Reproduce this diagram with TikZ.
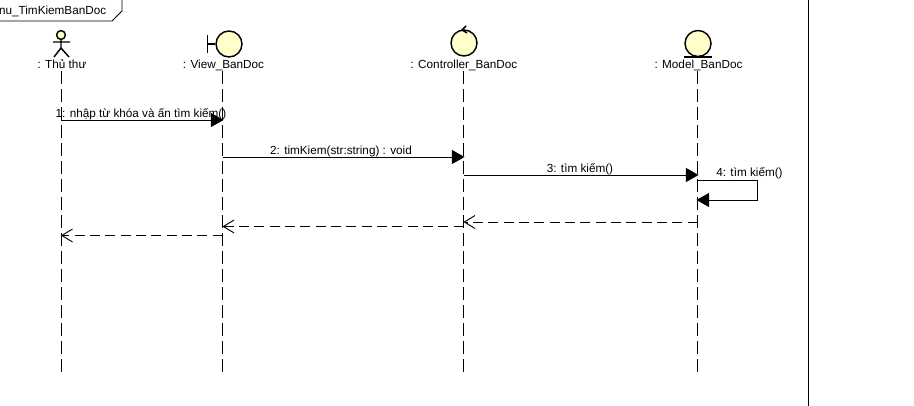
\documentclass[tikz,border=0pt]{standalone}
\usepackage{fontspec}
\setmainfont{Liberation Sans}
\usetikzlibrary{arrows.meta}
\definecolor{iconfill}{RGB}{255,255,204}
\tikzstyle{lbl}=[font=\fontsize{8.8}{10}\selectfont,inner sep=0pt,text height=8.5pt,text depth=1.5pt]
\tikzstyle{icon}=[draw=black,line width=1.1pt,fill=iconfill]
\tikzstyle{iconln}=[draw=black,line width=1.1pt]
\tikzstyle{lifeline}=[draw=black,line width=.7pt,dash pattern=on 9.75pt off 3.75pt]
\tikzstyle{msg}=[draw=black,line width=.7pt,shorten >=-.8pt,-{Triangle[length=9.5pt,width=10.5pt]}]
\tikzstyle{ret}=[draw=black,line width=.7pt,dash pattern=on 7.5pt off 4pt,-{Straight Barb[length=8pt,width=9.75pt]}]
\begin{document}
\begin{tikzpicture}[x=.75pt,y=-.75pt]
\useasboundingbox (0,0) rectangle (914,406);
% frame tab and page edge
\node[lbl,anchor=east] (frame) at (106.5,9.5) {nu\_TimKiemBanDoc};
\draw[line width=.7pt] (0,21) -- (112,21) -- (122,11) -- (122,0);
\draw[line width=.7pt] (808,0) -- (808,406);
% actor
\node[icon,circle,minimum size=6.6pt,inner sep=0pt] (head) at (61,35) {};
\draw[iconln] (head.south) -- (61,48) (53,42) -- (70,42) (54,57) -- (61,48) -- (69,57);
% boundary
\node[icon,circle,minimum size=19.5pt,inner sep=0pt] (view) at (229,44) {};
\draw[iconln] (207.5,35) -- (207.5,53) (207.5,44) -- (view.west);
% control
\node[icon,circle,minimum size=19.5pt,inner sep=0pt] (ctrl) at (464,43) {};
\draw[iconln] (466,26) -- (462,30) -- (467,33);
% entity
\node[icon,circle,minimum size=19.5pt,inner sep=0pt] (model) at (698,43.5) {};
\draw[iconln] (684,57) -- (712,57);
% labels
\node[lbl] (thuthu) at (62,64) {: Thủ thư};
\node[lbl] (viewlbl) at (223.5,64) {: View\_BanDoc};
\node[lbl] (ctrllbl) at (464,64) {: Controller\_BanDoc};
\node[lbl] (modellbl) at (698.5,64) {: Model\_BanDoc};
% lifelines
\coordinate (a0) at (61,71);
\coordinate (a1) at (61,372);
\coordinate (b0) at (222.5,71);
\coordinate (b1) at (222.5,372);
\coordinate (c0) at (463.5,71);
\coordinate (c1) at (463.5,372);
\coordinate (d0) at (697.5,71);
\coordinate (d1) at (697.5,372);
\draw[lifeline] (a0) -- (a1);
\draw[lifeline] (b0) -- (b1);
\draw[lifeline] (c0) -- (c1);
\draw[lifeline] (d0) -- (d1);
% messages
\coordinate (m1a) at (61,120);
\coordinate (m1b) at (222.5,120);
\coordinate (m2a) at (222.5,157);
\coordinate (m2b) at (463.5,157);
\coordinate (m3a) at (463.5,175);
\coordinate (m3b) at (697.5,175);
\coordinate (m4a) at (697.5,180.5);
\coordinate (m4b) at (697.5,200);
\draw[msg] (m1a) -- (m1b);
\draw[msg] (m2a) -- (m2b);
\draw[msg] (m3a) -- (m3b);
\draw[msg] (m4a) -- (757.5,180.5) -- (757.5,200) -- (m4b);
\node[lbl] (t1) at (141,112.5) {1: nhập từ khóa và ấn tìm kiếm()};
\node[lbl] (t2) at (341,149.5) {2: timKiem(str:string) : void};
\node[lbl] (t3) at (580,167.5) {3: tìm kiếm()};
\node[lbl] (t4) at (749.5,171.5) {4: tìm kiếm()};
% returns
\coordinate (r1a) at (697.5,222);
\coordinate (r1b) at (463.5,222);
\coordinate (r2a) at (463.5,226.5);
\coordinate (r2b) at (222.5,226.5);
\coordinate (r3a) at (222.5,235.5);
\coordinate (r3b) at (61,235.5);
\draw[ret] (r1a) -- (r1b);
\draw[ret] (r2a) -- (r2b);
\draw[ret] (r3a) -- (r3b);
\end{tikzpicture}
\end{document}
